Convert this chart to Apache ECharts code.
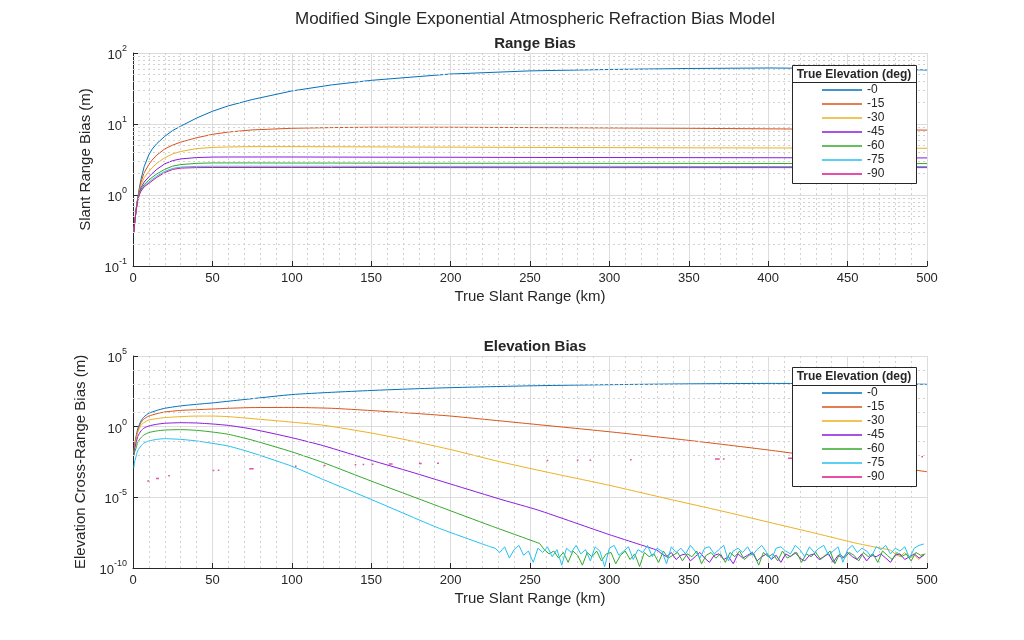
<!DOCTYPE html>
<html><head><meta charset="utf-8">
<script src="https://cdn.jsdelivr.net/npm/echarts@6/dist/echarts.min.js"></script>
<style>html,body{margin:0;padding:0;background:#fff}#c{width:1024px;height:640px}</style>
</head><body><div id="c"></div>
<script>
// ---------------- DATA ----------------
const names = ['-0', '-15', '-30', '-45', '-60', '-75', '-90'];
const colors = ['#0072BD', '#D95319', '#EDB120', '#8A1AE0', '#33A82A', '#24C0F0', '#E0128A'];

// Range bias (m) vs true slant range (km)
const rangeX = [0.6, 1, 2, 3, 4, 5, 7, 10, 12, 15, 20, 25, 30, 40, 50, 60, 75, 100, 125, 150, 200, 250, 300, 350, 400, 450, 500];
const rangeBias0  = [0.3, 0.4, 0.65, 0.92, 1.25, 1.65, 2.5, 3.7, 4.4, 5.3, 6.7, 8.1, 9.3, 12.1, 15.1, 18.0, 22.1, 29.2, 35.5, 41.2, 50.6, 56, 58.6, 60.5, 61.5, 60.5, 57.6];
const rangeBias15 = [0.3, 0.4, 0.64, 0.9, 1.18, 1.52, 2.05, 2.7, 3.1, 3.65, 4.45, 5.05, 5.55, 6.4, 7.15, 7.7, 8.25, 8.7, 8.9, 9.0, 9.0, 8.9, 8.8, 8.7, 8.55, 8.4, 8.2];
const rangeBias30 = [0.3, 0.4, 0.63, 0.88, 1.12, 1.38, 1.75, 2.15, 2.42, 2.8, 3.35, 3.8, 4.1, 4.5, 4.68, 4.75, 4.8, 4.8, 4.78, 4.76, 4.72, 4.68, 4.65, 4.62, 4.6, 4.57, 4.55];
const rangeBias45 = [0.3, 0.4, 0.62, 0.87, 1.08, 1.26, 1.52, 1.8, 2.0, 2.3, 2.75, 3.05, 3.22, 3.37, 3.42, 3.43, 3.43, 3.43, 3.42, 3.41, 3.4, 3.38, 3.37, 3.36, 3.35, 3.34, 3.33];
const rangeBias60 = [0.3, 0.4, 0.62, 0.86, 1.05, 1.2, 1.4, 1.62, 1.77, 1.98, 2.3, 2.55, 2.68, 2.79, 2.83, 2.83, 2.83, 2.82, 2.82, 2.81, 2.8, 2.8, 2.79, 2.79, 2.78, 2.78, 2.77];
const rangeBias75 = [0.3, 0.4, 0.61, 0.85, 1.03, 1.16, 1.34, 1.52, 1.65, 1.85, 2.15, 2.37, 2.47, 2.53, 2.54, 2.54, 2.54, 2.54, 2.54, 2.53, 2.53, 2.53, 2.53, 2.52, 2.52, 2.52, 2.52];
const rangeBias90 = [0.3, 0.4, 0.61, 0.84, 1.01, 1.13, 1.3, 1.46, 1.58, 1.77, 2.07, 2.29, 2.39, 2.43, 2.44, 2.44, 2.44, 2.44, 2.44, 2.44, 2.43, 2.43, 2.43, 2.43, 2.43, 2.43, 2.43];

// Elevation cross-range bias, stored as log10(m)
const elevX0  = [0.6, 1, 2, 3, 5, 7, 10, 15, 20, 30, 40, 50, 60, 75, 100, 125, 150, 175, 200, 250, 300, 350, 400, 450, 500];
const elevLog0  = [-1.8, -1.3, -0.66, -0.15, 0.4, 0.7, 0.95, 1.15, 1.3, 1.47, 1.58, 1.68, 1.8, 1.98, 2.27, 2.43, 2.56, 2.67, 2.76, 2.89, 2.97, 3.03, 3.06, 3.05, 3.0];
const elevLog15 = [-1.8, -1.35, -0.78, -0.3, 0.28, 0.55, 0.75, 0.92, 1.04, 1.15, 1.2, 1.25, 1.3, 1.35, 1.36, 1.3, 1.14, 0.96, 0.75, 0.2, -0.36, -0.97, -1.65, -2.4, -3.19];
const elevX30 = [0.6, 1, 2, 3, 5, 7, 10, 15, 20, 30, 40, 50, 60, 75, 100, 120, 150, 175, 200, 231, 260, 300, 340, 370, 400, 430, 456, 477];
const elevLog30 = [-1.9, -1.45, -0.85, -0.4, 0.1, 0.3, 0.47, 0.57, 0.64, 0.71, 0.75, 0.75, 0.71, 0.57, 0.32, 0.1, -0.45, -1.0, -1.62, -2.48, -3.2, -4.15, -5.19, -5.95, -6.75, -7.55, -8.26, -8.73];
const elevX45 = [0.6, 1, 2, 3, 5, 7, 10, 15, 20, 30, 40, 50, 60, 75, 100, 120, 150, 175, 200, 233, 255, 300, 330];
const elevLog45 = [-2.0, -1.6, -1.13, -0.7, -0.3, -0.1, 0.05, 0.17, 0.24, 0.28, 0.26, 0.19, 0.09, -0.17, -0.78, -1.35, -2.38, -3.2, -4.06, -5.19, -5.9, -7.64, -8.73];
const elevX60 = [0.6, 1, 2, 3, 5, 7, 10, 15, 20, 30, 40, 50, 60, 75, 100, 120, 150, 175, 193, 225, 256];
const elevLog60 = [-2.0, -1.8, -1.5, -1.1, -0.78, -0.58, -0.42, -0.3, -0.24, -0.21, -0.26, -0.38, -0.54, -0.95, -1.78, -2.55, -3.85, -4.9, -5.66, -7.0, -8.26];
const elevX75 = [0.6, 1, 2, 3, 5, 7, 10, 15, 20, 30, 40, 50, 60, 75, 100, 120, 150, 175, 193, 225];
const elevLog75 = [-2.9, -2.5, -2.07, -1.7, -1.37, -1.15, -1.01, -0.9, -0.85, -0.9, -1.01, -1.18, -1.37, -1.85, -2.8, -3.75, -5.15, -6.35, -7.2, -8.5];

// numerical-noise floor (log10 m), sampled every 3 km from the given start
const noiseStep = 3;
const yellowNoiseStart = 480;
const yellowNoise = [-9.0, -9.2, -8.9, -9.3, -9.1, -9.4, -9.0];
const purpleNoiseStart = 333;
const purpleNoise = [
  -9.0, -9.2, -8.9, -9.4, -9.1, -9.0, -9.5, -9.2, -8.9, -9.3,
  -9.6, -9.1, -9.0, -9.4, -9.2, -9.7, -9.0, -9.3, -9.1, -8.9,
  -9.5, -9.2, -9.0, -9.4, -9.1, -9.6, -9.0, -9.2, -8.9, -9.3,
  -9.5, -9.1, -9.0, -9.4, -9.2, -9.0, -9.6, -9.1, -9.3, -8.9,
  -9.2, -9.4, -9.0, -9.5, -9.1, -9.2, -9.0, -9.3, -9.6, -9.1,
  -9.0, -9.4, -9.2, -9.0, -9.3, -9.1];
const greenNoiseStart = 259;
const greenNoise = [
  -8.7, -9.0, -8.8, -9.3, -8.9, -9.6, -8.8, -9.1, -9.8, -8.9,
  -9.2, -8.8, -9.5, -9.0, -8.9, -9.7, -9.1, -8.8, -9.4, -9.0,
  -9.9, -8.9, -9.2, -9.0, -9.6, -8.8, -9.3, -9.1, -8.9, -9.5,
  -9.0, -9.2, -8.8, -9.7, -9.1, -8.9, -9.3, -9.0, -9.6, -8.9,
  -9.2, -8.8, -9.4, -9.1, -9.0, -9.8, -8.9, -9.2, -9.0, -9.5,
  -8.8, -9.3, -9.1, -8.9, -9.6, -9.0, -9.2, -8.9, -9.4, -9.1,
  -8.8, -9.7, -9.0, -9.3, -8.9, -9.1, -9.5, -8.9, -9.2, -9.0,
  -9.6, -8.8, -9.1, -9.4, -8.9, -9.2, -9.0, -9.5, -8.9, -9.1,
  -9.0];
const cyanNoiseStart = 228;
const cyanNoise = [
  -8.6, -8.9, -8.5, -9.3, -8.7, -8.4, -9.1, -8.8, -9.6, -8.6,
  -8.9, -8.5, -9.2, -8.7, -9.8, -8.6, -8.9, -8.4, -9.0, -8.7,
  -9.5, -8.5, -8.8, -9.9, -8.6, -8.4, -9.1, -8.8, -8.5, -9.4,
  -8.7, -8.9, -8.4, -9.2, -8.6, -8.8, -9.7, -8.5, -8.9, -8.6,
  -9.0, -8.4, -8.8, -9.3, -8.6, -8.5, -9.0, -8.7, -8.4, -9.5,
  -8.8, -8.6, -8.9, -8.5, -9.1, -8.7, -8.4, -8.9, -9.4, -8.6,
  -8.5, -8.8, -9.0, -8.4, -8.7, -9.2, -8.5, -8.9, -8.6, -8.4,
  -9.1, -8.8, -8.5, -9.6, -8.7, -8.4, -8.9, -8.6, -8.8, -9.2,
  -8.5, -8.7, -8.4, -9.0, -8.6, -8.8, -8.5, -9.3, -8.6, -8.4,
  -8.3];
// -90 deg: isolated fragments [startKm, endKm, log10 m]
const elevDots90 = [
  [9.0, 10.2, -3.85], [14.5, 16.3, -3.66], [22.2, 23.2, -3.47], [50.2, 51.2, -3.11],
  [53.4, 54.4, -3.08], [73.2, 76.0, -2.97], [102, 103, -2.8], [120, 121.2, -2.74],
  [139.6, 140.6, -2.69], [144.6, 145.6, -2.68], [150.4, 151.4, -2.66], [161, 163.5, -2.64],
  [180, 181.8, -2.6], [191.5, 192.7, -2.58], [260.5, 261.5, -2.4], [279.5, 280.5, -2.38],
  [287.5, 288.5, -2.37], [313, 314, -2.34], [366.5, 369.5, -2.29], [371.5, 372.5, -2.29],
  [412.5, 415.5, -2.24], [496.5, 497.5, -2.12]];

const topMinorTicks = [0.2,0.3,0.4,0.5,0.6,0.7,0.8,0.9,2,3,4,5,6,7,8,9,20,30,40,50,60,70,80,90];
const bottomMinorTicks = [1e-9,1e-8,1e-7,1e-6,1e-4,1e-3,1e-2,1e-1,1e1,1e2,1e3,1e4];

// ---------------- BUILD ----------------
const FONT = '"Liberation Sans", Arial, sans-serif';
const INK = '#262626';
const pw = v => Math.pow(10, v);
const pairs = (xs, ys, f) => xs.map((x, i) => [x, f ? f(ys[i]) : ys[i]]);
const noisePairs = (start, arr) => arr.map((v, i) => [start + i * noiseStep, pw(v)]);

const rangeSets = [rangeBias0, rangeBias15, rangeBias30, rangeBias45, rangeBias60, rangeBias75, rangeBias90];
const series = [];

function minorGrid(ai, vals) {
  return {type: 'line', xAxisIndex: ai, yAxisIndex: ai, data: [], z: 1, silent: true,
    markLine: {silent: true, symbol: ['none', 'none'], label: {show: false}, animation: false,
      lineStyle: {color: '#d2d2d2', type: [2, 3], width: 1},
      data: vals.map(v => ({yAxis: v}))}};
}
series.push(minorGrid(0, topMinorTicks));
series.push(minorGrid(1, bottomMinorTicks));

rangeSets.forEach((arr, i) => {
  series.push({type: 'line', name: names[i], xAxisIndex: 0, yAxisIndex: 0,
    data: pairs(rangeX, arr), symbol: 'none', showSymbol: false, smooth: false,
    lineStyle: {width: 1, color: colors[i]}, itemStyle: {color: colors[i]}, z: 3});
});

const elevSmooth = [[elevX0, elevLog0], [elevX0, elevLog15], [elevX30, elevLog30], [elevX45, elevLog45], [elevX60, elevLog60], [elevX75, elevLog75]];
elevSmooth.forEach((s, i) => {
  series.push({type: 'line', name: names[i], xAxisIndex: 1, yAxisIndex: 1,
    data: pairs(s[0], s[1], pw), symbol: 'none', showSymbol: false, smooth: 0.2,
    lineStyle: {width: 1, color: colors[i]}, itemStyle: {color: colors[i]}, z: 3});
});
const noiseSets = [[2, yellowNoiseStart, yellowNoise], [3, purpleNoiseStart, purpleNoise], [4, greenNoiseStart, greenNoise], [5, cyanNoiseStart, cyanNoise]];
noiseSets.forEach(n => {
  const i = n[0];
  const last = elevSmooth[i][0].length - 1;
  const d = [[elevSmooth[i][0][last], pw(elevSmooth[i][1][last])]].concat(noisePairs(n[1], n[2]));
  series.push({type: 'line', name: names[i], xAxisIndex: 1, yAxisIndex: 1, data: d, symbol: 'none', showSymbol: false,
    lineStyle: {width: 1, color: colors[i]}, itemStyle: {color: colors[i]}, z: 3});
});
const dots = [];
elevDots90.forEach(d => { dots.push([d[0], pw(d[2])], [d[1], pw(d[2])], [d[1] + 0.05, '-']); });
series.push({type: 'line', name: names[6], xAxisIndex: 1, yAxisIndex: 1, data: dots, symbol: 'none', showSymbol: false,
  connectNulls: false, lineStyle: {width: 1.5, color: colors[6], opacity: 0.75}, itemStyle: {color: colors[6]}, z: 3});

const supRich = {
  b: {fontSize: 13, color: INK, fontFamily: FONT, lineHeight: 18, verticalAlign: 'bottom'},
  s: {fontSize: 9, color: INK, fontFamily: FONT, lineHeight: 9, verticalAlign: 'top'}
};
const supFmt = step => v => {
  const e = Math.round(Math.log10(v));
  if (e % step !== 0) return '';
  return '{b|10}{s|' + e + '}';
};

function xAxisCfg(gi) {
  return {gridIndex: gi, type: 'value', min: 0, max: 500, interval: 50,
    axisLine: {show: true, onZero: false, lineStyle: {color: INK, width: 1}},
    axisTick: {show: true, inside: true, length: 5, lineStyle: {color: INK}},
    axisLabel: {fontSize: 13, color: INK, fontFamily: FONT, margin: 6},
    splitLine: {show: true, lineStyle: {color: '#dcdcdc', width: 1}},
    minorTick: {show: false, splitNumber: 5},
    minorSplitLine: {show: true, lineStyle: {color: '#d2d2d2', type: [2, 3], width: 1}},
    name: 'True Slant Range (km)', nameLocation: 'middle', nameGap: 23,
    nameTextStyle: {fontSize: 15, color: INK, fontFamily: FONT}};
}

const legendBase = {
  data: names, orient: 'vertical', left: 822, itemWidth: 40, itemHeight: 1.3, itemGap: 0, padding: 0,
  icon: 'rect', z: 20, selectedMode: false,
  textStyle: {fontSize: 12, color: INK, fontFamily: FONT, lineHeight: 14, height: 14}
};

function legendBox(x, y, w, h, hh) {
  return [
    {type: 'rect', z: 15, shape: {x: x + 0.5, y: y + 0.5, width: w, height: h}, style: {fill: '#fff', stroke: INK, lineWidth: 1}},
    {type: 'line', z: 16, shape: {x1: x + 0.5, y1: y + hh + 0.5, x2: x + w + 0.5, y2: y + hh + 0.5}, style: {stroke: INK, lineWidth: 1}},
    {type: 'text', z: 16, x: x + w / 2, y: y + hh / 2 + 1, style: {text: 'True Elevation (deg)', fontSize: 12, fontWeight: 'bold', fontFamily: FONT, fill: INK, align: 'center', verticalAlign: 'middle'}}
  ];
}

const option = {
  animation: false,
  backgroundColor: '#fff',
  title: [
    {text: 'Modified Single Exponential Atmospheric Refraction Bias Model', left: 530, top: 6, textAlign: 'center',
      textStyle: {fontSize: 17, fontWeight: 'normal', color: INK, fontFamily: FONT}},
    {text: 'Range Bias', left: 530, top: 31, textAlign: 'center', textStyle: {fontSize: 15, fontWeight: 'bold', color: INK, fontFamily: FONT}},
    {text: 'Elevation Bias', left: 530, top: 334, textAlign: 'center', textStyle: {fontSize: 15, fontWeight: 'bold', color: INK, fontFamily: FONT}}
  ],
  grid: [
    {left: 133, right: 97, top: 53, height: 213},
    {left: 133, right: 97, top: 356, height: 212}
  ],
  xAxis: [xAxisCfg(0), xAxisCfg(1)],
  yAxis: [
    {gridIndex: 0, type: 'log', logBase: 10, min: 0.1, max: 100,
      axisLine: {show: true, lineStyle: {color: INK}},
      axisTick: {show: true, inside: true, length: 5, lineStyle: {color: INK}},
      axisLabel: {formatter: supFmt(1), rich: supRich, margin: 6},
      splitLine: {show: true, lineStyle: {color: '#dcdcdc'}},
      name: 'Slant Range Bias (m)', nameLocation: 'middle', nameGap: 31, nameRotate: 90,
      nameTextStyle: {fontSize: 15, color: INK, fontFamily: FONT}},
    {gridIndex: 1, type: 'log', logBase: 10, min: 1e-10, max: 1e5, interval: 5,
      axisLine: {show: true, lineStyle: {color: INK}},
      axisTick: {show: true, inside: true, length: 5, lineStyle: {color: INK}},
      axisLabel: {formatter: supFmt(5), rich: supRich, margin: 6},
      splitLine: {show: true, lineStyle: {color: '#dcdcdc'}},
      minorSplitLine: {show: false},
      name: 'Elevation Cross-Range Bias (m)', nameLocation: 'middle', nameGap: 35, nameRotate: 90,
      nameTextStyle: {fontSize: 15, color: INK, fontFamily: FONT}}
  ],
  legend: [
    Object.assign({}, legendBase, {top: 83}),
    Object.assign({}, legendBase, {top: 386})
  ],
  graphic: legendBox(792, 65, 124, 118, 17).concat(legendBox(792, 367, 124, 119, 18)),
  series: series
};

const chart = echarts.init(document.getElementById('c'));
chart.setOption(option);
</script>
</body></html>
